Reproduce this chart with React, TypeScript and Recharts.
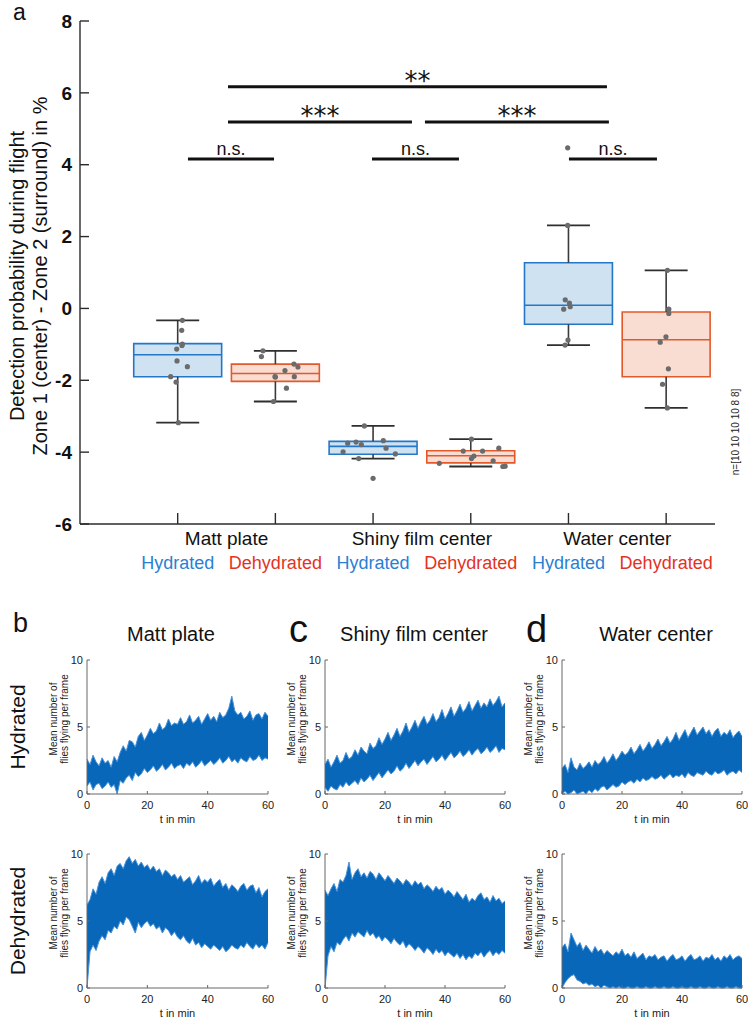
import React from 'react';
import { ComposedChart, AreaChart, Area, Scatter, XAxis, YAxis, ReferenceArea, ReferenceLine } from 'recharts';

const FONT = '"Liberation Sans", Arial, Helvetica, sans-serif';
const BLUE_EDGE = '#2377c6';
const BLUE_FILL = '#cfe2f2';
const RED_EDGE = '#e3592a';
const RED_FILL = '#f9ddd2';
const BLUE_TEXT = '#2a7fd3';
const RED_TEXT = '#e3331f';
const AX = '#2b2b2b';

// ---------- panel a data ----------
const groupNames = ['Matt plate', 'Shiny film center', 'Water center'];
const conditionNames = ['Hydrated', 'Dehydrated'];
const boxPositions = [1, 2, 3, 4, 5, 6];
const whiskerLow = [-3.18, -2.59, -4.18, -4.40, -1.02, -2.77];
const quartile1 = [-1.90, -2.03, -4.06, -4.30, -0.44, -1.90];
const medians = [-1.29, -1.81, -3.84, -4.10, 0.09, -0.87];
const quartile3 = [-0.98, -1.55, -3.70, -3.96, 1.27, -0.10];
const whiskerHigh = [-0.33, -1.18, -3.27, -3.64, 2.31, 1.06];
const pointValues = [
  [-0.33, -0.61, -0.99, -1.03, -1.13, -1.46, -1.62, -1.90, -2.05, -3.18],
  [-1.18, -1.34, -1.55, -1.63, -1.73, -1.90, -1.90, -1.91, -2.22, -2.59],
  [-3.27, -3.68, -3.72, -3.75, -3.79, -3.89, -3.99, -4.05, -4.18, -4.73],
  [-3.64, -3.89, -3.97, -3.97, -4.11, -4.18, -4.24, -4.31, -4.39, -4.40],
  [4.47, 2.31, 0.24, 0.15, 0.05, -0.02, -0.88, -1.02],
  [1.06, -0.02, -0.14, -0.79, -0.94, -1.68, -2.11, -2.77],
];
const pointJitter = [
  [0.048, 0.041, 0.048, 0.044, -0.01, -0.007, 0.099, -0.072, -0.017, 0.007],
  [-0.127, -0.143, 0.19, 0.231, 0.098, -0.004, 0.194, 0.0, 0.113, -0.02],
  [-0.089, 0.105, -0.174, -0.26, -0.12, 0.133, -0.307, 0.228, -0.147, 0.0],
  [0.007, 0.287, -0.077, 0.121, 0.032, 0.007, 0.229, -0.322, 0.352, 0.328],
  [-0.008, -0.008, -0.033, 0.01, 0.018, -0.049, -0.005, -0.035],
  [0.013, 0.027, 0.027, -0.002, -0.061, 0.023, -0.037, 0.012],
];
const sampleSizes = [10, 10, 10, 10, 8, 8];
const yTicksA = [-6, -4, -2, 0, 2, 4, 6, 8];
const categoryTicks = [1, 1.5, 2, 3, 3.5, 4, 5, 5.5, 6];

const bracketFrom = [1.515, 1.515, 3.531, 1.105, 2.989, 5.005];
const bracketTo = [5.394, 3.398, 5.414, 1.986, 3.879, 5.906];
const bracketLevel = [6.17, 5.19, 5.19, 4.16, 4.16, 4.16];
const bracketLabel = ['**', '***', '***', 'n.s.', 'n.s.', 'n.s.'];

// ---------- panels b-d data (mean number of flies flying per frame) ----------
const minutes = [0, 1, 2, 3, 4, 5, 6, 7, 8, 9, 10, 11, 12, 13, 14, 15, 16, 17, 18, 19, 20,
  21, 22, 23, 24, 25, 26, 27, 28, 29, 30, 31, 32, 33, 34, 35, 36, 37, 38, 39, 40,
  41, 42, 43, 44, 45, 46, 47, 48, 49, 50, 51, 52, 53, 54, 55, 56, 57, 58, 59, 60];
const timeTicks = [0, 20, 40, 60];
const countTicks = [0, 5, 10];
const panelTitles = ['Matt plate', 'Shiny film center', 'Water center'];
const panelLetters = ['b', 'c', 'd'];
const rowNames = ['Hydrated', 'Dehydrated'];

const mattHydratedUpper = [2.6, 2.2, 2.9, 2.4, 2.1, 2.7, 2.3, 2.5, 2.0, 2.8, 2.4,
  3.1, 3.6, 3.2, 4.0, 3.9, 3.5, 4.3, 4.6, 4.0, 4.4,
  4.9, 4.5, 4.7, 5.3, 4.8, 5.0, 5.6, 5.1, 5.3, 5.2,
  5.7, 5.2, 5.4, 5.9, 5.3, 5.5, 5.8, 5.2, 5.6, 6.0,
  5.5, 5.8, 5.4, 6.1, 5.7, 5.9, 6.4, 7.3, 6.2, 5.9,
  6.1, 5.6, 5.8, 6.2, 5.5, 5.9, 6.0, 5.6, 6.1, 5.8];
const mattHydratedLower = [0.6, 0.9, 0.3, 0.7, 0.8, 0.4, 0.6, 0.9, 0.5, 0.7, 0.0,
  1.0, 0.8, 1.2, 1.4, 1.0, 1.6, 1.3, 1.5, 1.9, 1.6,
  1.8, 2.1, 1.7, 1.9, 2.2, 1.8, 2.0, 2.3, 1.9, 2.1,
  2.2, 1.9, 2.3, 2.1, 2.4, 2.0, 2.2, 2.5, 2.1, 2.3,
  2.5, 2.2, 2.4, 2.7, 2.3, 2.5, 2.8, 2.4, 2.6, 2.3,
  2.7, 2.5, 2.4, 2.8, 2.5, 2.6, 2.9, 2.5, 2.7, 2.6];
const shinyHydratedUpper = [2.2, 2.6, 2.0, 2.4, 2.9, 2.3, 2.5, 3.1, 2.6, 2.8, 3.3,
  2.9, 3.5, 3.2, 3.0, 3.8, 3.4, 3.6, 4.2, 3.7, 4.1,
  4.6, 4.0, 4.4, 4.9, 4.3, 4.7, 5.3, 4.6, 5.0, 5.5,
  4.9, 5.4, 5.8, 5.2, 5.5, 6.0, 5.4, 5.7, 6.3, 5.6,
  6.0, 6.5, 5.8, 6.2, 6.7, 6.1, 6.4, 6.9, 6.2, 6.6,
  7.0, 6.4, 6.8, 6.5, 7.1, 6.6, 6.9, 7.3, 6.5, 6.8];
const shinyHydratedLower = [0.5, 0.2, 0.6, 0.4, 0.3, 0.7, 0.5, 0.9, 0.6, 0.8, 1.0,
  0.7, 1.2, 0.9, 1.1, 1.4, 1.0, 1.3, 1.6, 1.2, 1.5,
  1.8, 1.5, 1.7, 2.1, 1.7, 1.9, 2.3, 1.9, 2.2, 2.5,
  2.1, 2.4, 2.6, 2.2, 2.5, 2.8, 2.4, 2.6, 2.9, 2.5,
  2.8, 3.1, 2.7, 2.9, 3.2, 2.8, 3.0, 3.3, 2.9, 3.2,
  3.4, 3.0, 3.2, 3.5, 3.1, 3.3, 3.6, 3.1, 3.4, 3.3];
const waterHydratedUpper = [1.9, 2.2, 1.6, 2.7, 2.0, 1.8, 2.3, 1.9, 2.1, 2.4, 2.0,
  2.5, 2.2, 2.4, 2.8, 2.3, 2.6, 3.0, 2.5, 2.8, 3.2,
  2.9, 3.1, 3.5, 3.0, 3.3, 3.7, 3.2, 3.5, 3.9, 3.4,
  3.7, 4.1, 3.6, 3.9, 4.3, 3.8, 4.1, 4.6, 4.0, 4.4,
  4.8, 4.2, 4.6, 5.0, 4.4, 4.7, 5.0, 4.5, 4.8, 4.3,
  4.7, 4.9, 4.3, 4.6, 4.4, 4.8, 4.2, 4.5, 4.7, 4.3];
const waterHydratedLower = [0.0, 0.2, 0.0, 0.1, 0.3, 0.0, 0.1, 0.2, 0.0, 0.3, 0.1,
  0.4, 0.2, 0.5, 0.6, 0.3, 0.5, 0.7, 0.5, 0.6, 0.9,
  0.7, 0.9, 1.0, 0.8, 1.1, 0.9, 1.2, 1.0, 1.1, 1.3,
  1.1, 1.2, 1.4, 1.1, 1.3, 1.5, 1.2, 1.4, 1.3, 1.5,
  1.2, 1.6, 1.4, 1.3, 1.6, 1.5, 1.4, 1.7, 1.5, 1.4,
  1.7, 1.5, 1.6, 1.8, 1.4, 1.6, 1.7, 1.5, 1.8, 1.6];
const mattDehydratedUpper = [6.2, 6.6, 7.4, 7.0, 7.9, 8.3, 7.8, 8.6, 8.9, 8.4, 9.1,
  9.3, 8.9, 9.5, 9.8, 9.3, 9.6, 9.1, 9.4, 9.0, 9.2,
  8.8, 9.1, 8.7, 8.9, 8.4, 8.8, 8.6, 8.3, 8.5, 8.1,
  8.4, 7.9, 8.1, 8.3, 7.7, 8.0, 8.4, 7.8, 8.1, 7.9,
  8.2, 7.6, 7.9, 8.1, 7.5, 7.8, 7.3, 7.7, 7.5, 7.2,
  7.6, 7.8, 7.3, 7.6, 7.7, 7.1, 7.5, 6.8, 7.2, 7.4];
const mattDehydratedLower = [0.0, 2.7, 3.2, 2.8, 3.5, 3.9, 3.6, 4.3, 4.1, 4.6, 4.4,
  5.0, 4.7, 5.3, 5.1, 4.6, 4.1, 4.9, 4.5, 4.8, 5.0,
  4.6, 4.8, 4.4, 4.6, 4.1, 4.5, 4.3, 3.9, 4.2, 3.8,
  3.6, 3.9, 3.5, 3.3, 3.7, 3.2, 3.4, 3.0, 3.3, 3.1,
  2.9, 3.2, 3.0, 2.8, 3.1, 2.7, 2.9, 3.2, 3.0, 2.9,
  3.2, 3.0, 3.4, 3.1, 2.9, 3.3, 3.0, 3.2, 2.9, 3.4];
const shinyDehydratedUpper = [7.3, 6.9, 7.4, 7.8, 7.2, 8.1, 7.9, 8.4, 9.4, 8.1, 8.6,
  8.9, 8.3, 8.6, 8.2, 8.7, 8.5, 8.1, 8.6, 8.3, 8.0,
  8.4, 8.1, 7.8, 8.2, 8.0, 7.7, 8.1, 7.9, 7.6, 8.0,
  7.7, 7.9, 7.4, 7.7, 7.5, 7.2, 7.6, 7.3, 7.5, 7.0,
  7.3, 7.1, 6.8, 7.2, 6.9, 6.6, 7.0, 6.4, 6.7, 6.5,
  6.9, 7.1, 6.6, 6.8, 6.4, 6.9, 6.5, 6.7, 6.3, 6.5];
const shinyDehydratedLower = [0.0, 2.4, 3.1, 2.7, 3.4, 3.2, 3.6, 3.9, 3.5, 4.1, 3.8,
  4.2, 4.0, 3.8, 4.3, 3.9, 4.1, 3.7, 3.9, 3.5, 3.8,
  3.6, 3.3, 3.7, 3.4, 3.2, 3.5, 3.0, 3.3, 3.1, 2.8,
  3.1, 2.9, 2.6, 3.0, 2.8, 2.5, 2.9, 2.6, 2.8, 2.4,
  2.7, 2.5, 2.3, 2.6, 2.2, 2.5, 2.1, 2.4, 2.2, 2.6,
  2.4, 2.7, 2.3, 2.6, 2.8, 2.4, 2.7, 2.5, 2.8, 2.6];
const waterDehydratedUpper = [3.0, 3.3, 2.7, 4.1, 3.6, 3.1, 3.4, 2.8, 3.2, 2.9, 2.6,
  3.1, 2.7, 2.9, 2.5, 2.8, 2.6, 2.4, 2.7, 2.5, 2.9,
  2.4, 2.6, 2.3, 2.7, 2.2, 2.4, 2.6, 2.1, 2.4, 2.3,
  2.5, 2.1, 2.3, 2.4, 2.0, 2.3, 2.5, 2.1, 2.2, 2.4,
  2.0, 2.3, 2.5, 2.1, 2.2, 2.4, 2.0, 2.3, 2.2, 2.5,
  2.1, 2.3, 2.0, 2.4, 2.2, 2.5, 2.1, 2.3, 2.4, 2.2];
const waterDehydratedLower = [0.0, 0.4, 0.7, 0.9, 1.0, 0.6, 0.5, 0.3, 0.4, 0.2, 0.3,
  0.1, 0.2, 0.0, 0.2, 0.1, 0.0, 0.1, 0.0, 0.1, 0.0,
  0.0, 0.1, 0.0, 0.0, 0.1, 0.0, 0.0, 0.1, 0.0, 0.0,
  0.1, 0.0, 0.0, 0.1, 0.0, 0.0, 0.1, 0.0, 0.0, 0.1,
  0.0, 0.0, 0.1, 0.0, 0.0, 0.1, 0.0, 0.0, 0.1, 0.0,
  0.0, 0.1, 0.0, 0.0, 0.1, 0.0, 0.0, 0.1, 0.0, 0.0];

// layout (pixels)
const panelLefts = [87, 325, 562];
const panelRights = [268, 505, 742];
const panelTops = [660, 854];
const panelHeight = 134;

const seriesGrid = [
  [[mattHydratedLower, mattHydratedUpper], [shinyHydratedLower, shinyHydratedUpper], [waterHydratedLower, waterHydratedUpper]],
  [[mattDehydratedLower, mattDehydratedUpper], [shinyDehydratedLower, shinyDehydratedUpper], [waterDehydratedLower, waterDehydratedUpper]],
];

// Tick renderer: integer ticks get the condition label, half ticks get the group name
function CategoryTick(props: any) {
  const { x, y, payload } = props;
  const v = payload.value;
  if (Number.isInteger(v)) {
    const c = (v - 1) % 2;
    return (
      <text x={x} y={y + 44.5} textAnchor="middle" fontSize={18} fill={c === 0 ? BLUE_TEXT : RED_TEXT} fontFamily={FONT}>
        {conditionNames[c]}
      </text>
    );
  }
  const g = Math.round((v - 1.5) / 2);
  return (
    <text x={x} y={y + 21} textAnchor="middle" fontSize={19} fill="#111" fontFamily={FONT}>
      {groupNames[g]}
    </text>
  );
}

function PanelA() {
  const points = boxPositions.flatMap((p, i) => pointValues[i].map((v, j) => ({ x: p + pointJitter[i][j], y: v })));
  const axisMarks = boxPositions.map((p) => ({ x: p, y: -6 }));
  const half = 0.45;
  const cap = 0.22;
  return (
    <div style={{ position: 'absolute', left: 0, top: 0 }}>
      <ComposedChart width={749} height={585} margin={{ top: 21, right: 34, bottom: 0, left: 0 }} data={points}>
        <XAxis xAxisId="main" type="number" dataKey="x" domain={[0, 6.5]} ticks={categoryTicks} interval={0}
          tick={<CategoryTick />} tickSize={0} tickMargin={0} height={61}
          axisLine={{ stroke: AX, strokeWidth: 1.4 }} tickLine={false} />
        <YAxis type="number" dataKey="y" domain={[-6, 8]} ticks={yTicksA} interval={0} width={80}
          tickSize={-9} tickMargin={17}
          axisLine={{ stroke: AX, strokeWidth: 1.4 }} tickLine={{ stroke: AX, strokeWidth: 1.4 }}
          tick={{ fontSize: 19, fontWeight: 'bold', fill: '#111', fontFamily: FONT }} />
        {boxPositions.map((p, i) => (
          <ReferenceLine key={'wu' + i} xAxisId="main" segment={[{ x: p, y: quartile3[i] }, { x: p, y: whiskerHigh[i] }]} stroke="#3a3a3a" strokeWidth={1.6} />
        ))}
        {boxPositions.map((p, i) => (
          <ReferenceLine key={'wl' + i} xAxisId="main" segment={[{ x: p, y: quartile1[i] }, { x: p, y: whiskerLow[i] }]} stroke="#3a3a3a" strokeWidth={1.6} />
        ))}
        {boxPositions.map((p, i) => (
          <ReferenceLine key={'cu' + i} xAxisId="main" segment={[{ x: p - cap, y: whiskerHigh[i] }, { x: p + cap, y: whiskerHigh[i] }]} stroke="#2e2e2e" strokeWidth={1.8} />
        ))}
        {boxPositions.map((p, i) => (
          <ReferenceLine key={'cl' + i} xAxisId="main" segment={[{ x: p - cap, y: whiskerLow[i] }, { x: p + cap, y: whiskerLow[i] }]} stroke="#2e2e2e" strokeWidth={1.8} />
        ))}
        {boxPositions.map((p, i) => (
          <ReferenceArea key={'b' + i} xAxisId="main" x1={p - half} x2={p + half} y1={quartile1[i]} y2={quartile3[i]}
            fill={i % 2 === 0 ? BLUE_FILL : RED_FILL} fillOpacity={1}
            stroke={i % 2 === 0 ? BLUE_EDGE : RED_EDGE} strokeWidth={1.6} />
        ))}
        {boxPositions.map((p, i) => (
          <ReferenceLine key={'m' + i} xAxisId="main" segment={[{ x: p - half, y: medians[i] }, { x: p + half, y: medians[i] }]}
            stroke={i % 2 === 0 ? BLUE_EDGE : RED_EDGE} strokeWidth={1.6} />
        ))}
        {bracketLabel.map((lab, i) => (
          <ReferenceLine key={'s' + i} xAxisId="main"
            segment={[{ x: bracketFrom[i], y: bracketLevel[i] }, { x: bracketTo[i], y: bracketLevel[i] }]}
            stroke="#111" strokeWidth={3}
            label={lab === 'n.s.'
              ? { value: lab, position: 'top', offset: 4, fontSize: 18, fill: '#111', fontFamily: FONT }
              : { value: lab, position: 'top', offset: -3, fontSize: 26, fill: '#111', fontFamily: '"DejaVu Sans", sans-serif' }} />
        ))}
        <Scatter xAxisId="main" data={points} dataKey="y" isAnimationActive={false}
          shape={(p: any) => <circle cx={p.cx} cy={p.cy} r={2.6} fill="#6b6b6b" />} />
        {/* inward tick marks of the category axis */}
        <Scatter xAxisId="main" data={axisMarks} dataKey="y" isAnimationActive={false}
          shape={(p: any) => <line x1={p.cx} x2={p.cx} y1={p.cy} y2={p.cy - 11} stroke={AX} strokeWidth={1.4} />} />
      </ComposedChart>
    </div>
  );
}

function TimePanel({ col, row }: { col: number; row: number }) {
  const [lower, upper] = seriesGrid[row][col];
  const data = minutes.map((t, i) => ({ t, band: [lower[i], upper[i]] }));
  const left = panelLefts[col];
  const top = panelTops[row];
  const plotW = panelRights[col] - left;
  const YW = 60, MT = 6, MR = 6, XH = 32;
  const axisStyle = { stroke: '#666', strokeWidth: 1 };
  return (
    <div style={{ position: 'absolute', left: left - YW, top: top - MT }}>
      <AreaChart width={plotW + YW + MR} height={panelHeight + MT + XH} data={data} margin={{ top: MT, right: MR, bottom: 0, left: 0 }}>
        <XAxis dataKey="t" type="number" domain={[0, 60]} ticks={timeTicks} interval={0} height={XH}
          tickSize={-3} tickMargin={10} axisLine={axisStyle} tickLine={axisStyle}
          tick={{ fontSize: 11, fill: '#222', fontFamily: FONT }}
          label={{ value: 't in min', position: 'insideBottom', offset: 3, fontSize: 11, fill: '#222', fontFamily: FONT }} />
        <XAxis xAxisId="top" orientation="top" type="number" domain={[0, 60]} ticks={timeTicks} interval={0} height={0}
          tick={false} tickSize={-3} axisLine={axisStyle} tickLine={axisStyle} />
        <YAxis type="number" domain={[0, 10]} ticks={countTicks} interval={0} width={YW}
          tickSize={-3} tickMargin={7} axisLine={axisStyle} tickLine={axisStyle}
          tick={{ fontSize: 11, fill: '#222', fontFamily: FONT }} />
        <YAxis yAxisId="right" orientation="right" type="number" domain={[0, 10]} ticks={countTicks} interval={0} width={0}
          tick={false} tickSize={-3} axisLine={axisStyle} tickLine={axisStyle} />
        <Area dataKey="band" type="linear" stroke="#4892da" strokeWidth={1} fill="#0867b8" fillOpacity={1}
          isAnimationActive={false} dot={false} activeDot={false} />
      </AreaChart>
    </div>
  );
}

function Overlay() {
  return (
    <svg width={749} height={1019} style={{ position: 'absolute', left: 0, top: 0, pointerEvents: 'none', fontFamily: FONT }}>
      <text x={13} y={20} fontSize={23} fill="#111">a</text>
      <text transform="translate(24,276) rotate(-90)" textAnchor="middle" fontSize={20} fill="#111">Detection probability during flight</text>
      <text transform="translate(47,276) rotate(-90)" textAnchor="middle" fontSize={20} fill="#111">Zone 1 (center) - Zone 2 (surround) in %</text>
      <text transform="translate(739,432) rotate(-90)" textAnchor="middle" fontSize={10} fill="#222">{`n=[${sampleSizes.join(' ')}]`}</text>
      <text x={13} y={632} fontSize={27} fill="#111">{panelLetters[0]}</text>
      <text x={289} y={642} fontSize={38} fill="#111">{panelLetters[1]}</text>
      <text x={526} y={642} fontSize={38} fill="#111">{panelLetters[2]}</text>
      {panelTitles.map((t, i) => (
        <text key={'t' + i} x={[171, 414, 656][i]} y={641} textAnchor="middle" fontSize={20} fill="#111">{t}</text>
      ))}
      {rowNames.map((r, i) => (
        <text key={'r' + i} transform={`translate(25,${panelTops[i] + panelHeight / 2}) rotate(-90)`} textAnchor="middle" fontSize={21} fill="#111">{r}</text>
      ))}
      {panelTops.map((pt, ri) => panelLefts.map((pl, ci) => (
        <g key={'yl' + ri + ci}>
          <text transform={`translate(${pl - 30.4},${pt + panelHeight / 2 - 8}) rotate(-90)`} textAnchor="middle" fontSize={10} fill="#222">Mean number of</text>
          <text transform={`translate(${pl - 19.4},${pt + panelHeight / 2 - 8}) rotate(-90)`} textAnchor="middle" fontSize={10} fill="#222">flies flying per frame</text>
        </g>
      )))}
    </svg>
  );
}

export default function App() {
  return (
    <div style={{ position: 'absolute', left: 0, top: 0, width: 749, height: 1019, background: '#fff', fontFamily: FONT }}>
      <PanelA />
      {[0, 1].map((r) => [0, 1, 2].map((c) => <TimePanel key={`p${r}${c}`} col={c} row={r} />))}
      <Overlay />
    </div>
  );
}
